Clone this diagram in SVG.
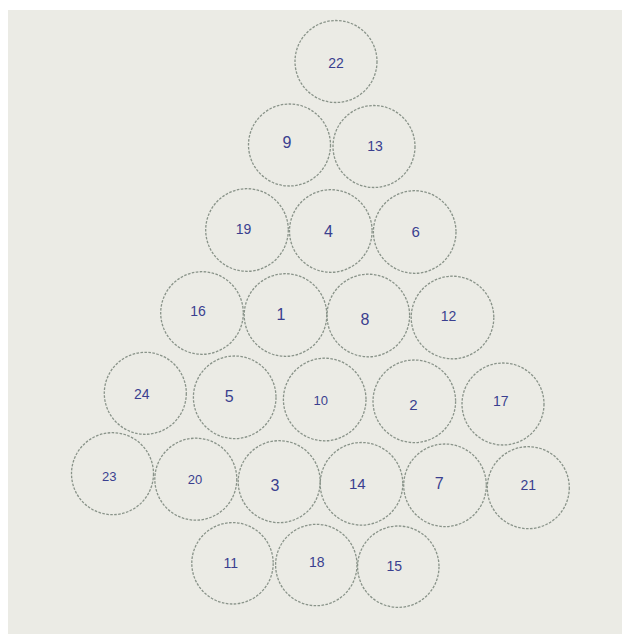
<svg xmlns="http://www.w3.org/2000/svg" width="622" height="634" viewBox="0 0 622 634">
<style>
.bg{fill:#ffffff}
.fabric{fill:#ebebe5}
.c{fill:none;stroke:#899389;stroke-width:1.3;stroke-dasharray:2.6 1.4}
.t{font-family:"Liberation Sans","DejaVu Sans",sans-serif;font-size:14px;fill:#3a3f8f;text-anchor:middle;dominant-baseline:central}
</style>
<rect class="bg" x="0" y="0" width="622" height="634"/>
<rect class="fabric" x="8" y="10" width="614" height="624"/>
<g id="connectors"/>
<g id="n22"><circle class="c" cx="336" cy="61.5" r="41"/><text class="t" x="336" y="63">22</text></g>
<g id="n9"><circle class="c" cx="289.5" cy="145" r="41"/><text class="t" x="287" y="142" style="font-size:16px">9</text></g>
<g id="n13"><circle class="c" cx="374" cy="146.5" r="41"/><text class="t" x="375" y="146">13</text></g>
<g id="n19"><circle class="c" cx="247" cy="230" r="41.3"/><text class="t" x="243.5" y="228.5">19</text></g>
<g id="n4"><circle class="c" cx="330.8" cy="231" r="41.3"/><text class="t" x="328.5" y="231" style="font-size:16px">4</text></g>
<g id="n6"><circle class="c" cx="414.7" cy="232" r="41.3"/><text class="t" x="415.7" y="231" style="font-size:15px">6</text></g>
<g id="n16"><circle class="c" cx="202" cy="313" r="41.3"/><text class="t" x="198" y="311">16</text></g>
<g id="n1"><circle class="c" cx="285.5" cy="315" r="41.3"/><text class="t" x="281" y="314" style="font-size:16px">1</text></g>
<g id="n8"><circle class="c" cx="368.3" cy="315.5" r="41.3"/><text class="t" x="365" y="319" style="font-size:16px">8</text></g>
<g id="n12"><circle class="c" cx="452.5" cy="317.5" r="41.3"/><text class="t" x="448.5" y="316">12</text></g>
<g id="n24"><circle class="c" cx="145.3" cy="393.3" r="41"/><text class="t" x="141.7" y="394">24</text></g>
<g id="n5"><circle class="c" cx="234.7" cy="397.3" r="41.3"/><text class="t" x="229.3" y="396.7" style="font-size:16px">5</text></g>
<g id="n10"><circle class="c" cx="324.7" cy="399.5" r="41.3"/><text class="t" x="320.7" y="400.7" style="font-size:13px">10</text></g>
<g id="n2"><circle class="c" cx="414.3" cy="401.3" r="41.3"/><text class="t" x="413.3" y="404" style="font-size:15px">2</text></g>
<g id="n17"><circle class="c" cx="503" cy="404" r="41"/><text class="t" x="500.7" y="400.7">17</text></g>
<g id="n23"><circle class="c" cx="112.5" cy="473.7" r="41"/><text class="t" x="109.3" y="476" style="font-size:13px">23</text></g>
<g id="n20"><circle class="c" cx="195.8" cy="479.2" r="41"/><text class="t" x="195" y="479.3" style="font-size:13px">20</text></g>
<g id="n3"><circle class="c" cx="279.2" cy="481.7" r="41"/><text class="t" x="275" y="485" style="font-size:16px">3</text></g>
<g id="n14"><circle class="c" cx="361.5" cy="483.8" r="41.3"/><text class="t" x="357.3" y="483.3" style="font-size:15px">14</text></g>
<g id="n7"><circle class="c" cx="445" cy="485.3" r="41.3"/><text class="t" x="439.3" y="483.3" style="font-size:16px">7</text></g>
<g id="n21"><circle class="c" cx="528.3" cy="487.7" r="41"/><text class="t" x="528.3" y="485">21</text></g>
<g id="n11"><circle class="c" cx="232.5" cy="563.3" r="40.7"/><text class="t" x="230.7" y="563.3">11</text></g>
<g id="n18"><circle class="c" cx="316.3" cy="565" r="40.7"/><text class="t" x="316.7" y="561.7">18</text></g>
<g id="n15"><circle class="c" cx="398.3" cy="566.7" r="40.7"/><text class="t" x="394.3" y="566">15</text></g>
</svg>
